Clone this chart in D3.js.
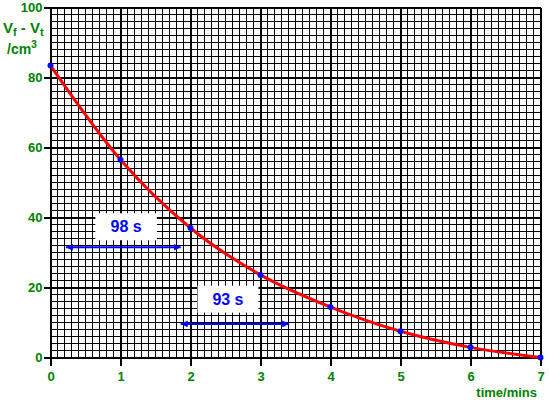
<!DOCTYPE html>
<html><head><meta charset="utf-8">
<script src="https://cdn.jsdelivr.net/npm/d3@7"></script>
<style>body{margin:0;background:#fff}svg{display:block}</style>
</head><body>
<script>
const times = [0,1,2,3,4,5,6,7];
const volumes = [83.4,56.5,37,23.6,14.4,7.5,2.9,0];
const xTicks = [0,1,2,3,4,5,6,7];
const yTicks = [0,20,40,60,80,100];
const annotations = [
  {label:"98 s", t0:0.22, t1:1.86, v:31.5, bx0:0.64, bx1:1.52, by:37.5},
  {label:"93 s", t0:1.86, t1:3.41, v:9.6, bx0:2.1, bx1:2.97, by:16.8}
];

const W=549,H=405;
const svg=d3.select("body").append("svg").attr("width",W).attr("height",H);
const x=d3.scaleLinear().domain([0,7]).range([50.5,540.5]);
const y=d3.scaleLinear().domain([0,100]).range([357.5,7.5]);
const green="#008000";
const FONT="Liberation Sans, Arial, sans-serif";

const g=svg.append("g").attr("shape-rendering","crispEdges");
d3.range(0,70.1,1).forEach(i=>{
  const t=i/10;
  g.append("line").attr("x1",x(t)).attr("x2",x(t)).attr("y1",y(0)).attr("y2",y(100))
   .attr("stroke","#000").attr("stroke-width",i%10===0?2:1);
});
d3.range(0,50.1,1).forEach(i=>{
  const v=i*2;
  g.append("line").attr("x1",x(0)).attr("x2",x(7)).attr("y1",y(v)).attr("y2",y(v))
   .attr("stroke","#000").attr("stroke-width",i%10===0?2:1);
});
const xAxis=svg.append("g").attr("transform",`translate(0,${y(0)})`)
  .call(d3.axisBottom(x).tickValues(xTicks).tickSize(8).tickFormat(d3.format("d")));
const yAxis=svg.append("g").attr("transform",`translate(${x(0)},0)`)
  .call(d3.axisLeft(y).tickValues(yTicks).tickSize(7).tickFormat(d3.format("d")));
[xAxis,yAxis].forEach(a=>{
  a.select(".domain").attr("stroke","#000").attr("stroke-width",2).attr("shape-rendering","crispEdges");
  a.selectAll(".tick line").attr("stroke","#000").attr("stroke-width",2).attr("shape-rendering","crispEdges");
  a.selectAll("text").attr("fill",green).attr("font-family",FONT)
   .attr("font-weight","bold").attr("font-size",13);
});
xAxis.selectAll("text").attr("y",12).attr("dy","0.9em");
yAxis.selectAll("text").attr("x",-8);

svg.append("path").datum(times.map((t,i)=>[t,volumes[i]]))
  .attr("fill","none").attr("stroke","#ff0000").attr("stroke-width",3)
  .attr("d",d3.line().x(d=>x(d[0])).y(d=>y(d[1])).curve(d3.curveMonotoneX));
svg.selectAll("circle.pt").data(times).join("circle").attr("class","pt")
  .attr("cx",d=>x(d)).attr("cy",(d,i)=>y(volumes[i])).attr("r",3).attr("fill","#0000ff");

svg.append("defs").html(`<marker id="ah" viewBox="0 0 10 10" refX="10" refY="5" markerUnits="userSpaceOnUse" markerWidth="7" markerHeight="7" orient="auto-start-reverse"><path d="M0,0 L10,5 L0,10 Z" fill="#0000ff"/></marker>`);
annotations.forEach(a=>{
  svg.append("rect").attr("x",x(a.bx0)).attr("y",y(a.by)-13).attr("width",x(a.bx1)-x(a.bx0)).attr("height",27).attr("fill","#fff");
  svg.append("text").attr("x",(x(a.bx0)+x(a.bx1))/2).attr("y",y(a.by)+6).attr("text-anchor","middle")
    .attr("fill","#0000ff").attr("font-family",FONT).attr("font-weight","bold").attr("font-size",16).text(a.label);
  svg.append("line").attr("x1",x(a.t0)).attr("x2",x(a.t1)).attr("y1",y(a.v)).attr("y2",y(a.v))
    .attr("stroke","#0000ff").attr("stroke-width",2)
    .attr("marker-start","url(#ah)").attr("marker-end","url(#ah)");
});

const yt=svg.append("text").attr("x",3).attr("y",33).attr("fill",green)
  .attr("font-family",FONT).attr("font-weight","bold").attr("font-size",15);
yt.append("tspan").text("V");
yt.append("tspan").attr("font-size",11).attr("dy",3).text("f");
yt.append("tspan").attr("dy",-3).text(" - V");
yt.append("tspan").attr("font-size",11).attr("dy",3).text("t");
const yu=svg.append("text").attr("x",7).attr("y",54).attr("fill",green)
  .attr("font-family",FONT).attr("font-weight","bold").attr("font-size",14);
yu.append("tspan").text("/cm");
yu.append("tspan").attr("font-size",10).attr("dy",-6).text("3");
svg.append("text").attr("x",537).attr("y",397).attr("text-anchor","end").attr("fill",green)
  .attr("font-family",FONT).attr("font-weight","bold").attr("font-size",13).text("time/mins");
</script>
</body></html>
